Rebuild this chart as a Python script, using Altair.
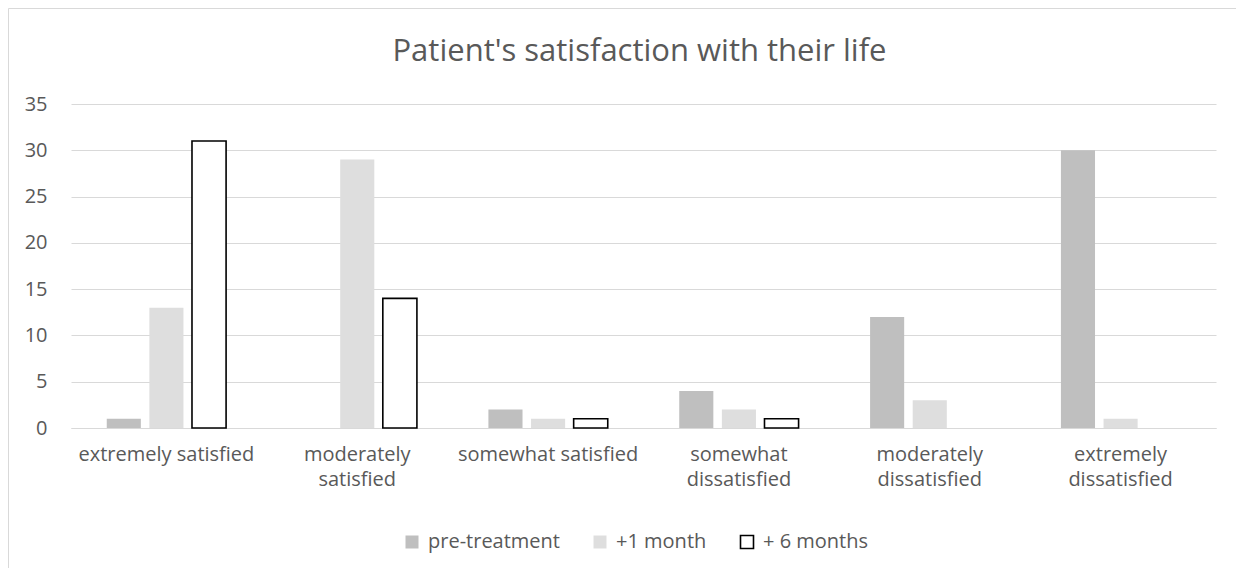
import altair as alt
import pandas as pd

categories = [
    "extremely satisfied",
    "moderately satisfied",
    "somewhat satisfied",
    "somewhat dissatisfied",
    "moderately dissatisfied",
    "extremely dissatisfied",
]
series = ["pre-treatment", "+1 month", "+ 6 months"]
pre_treatment = [1, 0, 2, 4, 12, 30]
plus_1_month = [13, 29, 1, 2, 3, 1]
plus_6_months = [31, 14, 1, 1, 0, 0]
y_ticks = [0, 5, 10, 15, 20, 25, 30, 35]

rows = []
for s, vals in zip(series, [pre_treatment, plus_1_month, plus_6_months]):
    for c, v in zip(categories, vals):
        rows.append({"category": c, "series": s, "value": v})
df = pd.DataFrame(rows)

FONT = "Open Sans"
GREY = "#595959"
W, H = 1145, 324

label_expr = ("(datum.label == 'extremely satisfied' || datum.label == 'somewhat satisfied') "
              "? datum.label : split(datum.label, ' ')")

legend_props = dict(title=None, orient="none", direction="horizontal", legendX=331, legendY=428,
                    symbolType="square", symbolSize=169, symbolStrokeWidth=1.6, labelOffset=6,
                    labelFont=FONT, labelFontSize=20, labelColor=GREY, columnPadding=30)

bars = alt.Chart(df).transform_filter("datum.value > 0").mark_bar(strokeWidth=1.6).encode(
    x=alt.X("category:N", sort=categories,
            scale=alt.Scale(domain=categories, paddingInner=0.33, paddingOuter=0.165),
            axis=alt.Axis(title=None, labelAngle=0, ticks=False, domainColor="#d9d9d9",
                          labelExpr=label_expr, labelPadding=16, labelLineHeight=25,
                          labelLimit=300, labelFontSize=20, labelColor=GREY, labelFont=FONT)),
    xOffset=alt.XOffset("series:N", sort=series,
                        scale=alt.Scale(domain=series, paddingInner=0.2, paddingOuter=0.1)),
    y=alt.Y("value:Q", scale=alt.Scale(domain=[0, 35]),
            axis=alt.Axis(title=None, values=y_ticks, domain=False, ticks=False,
                          gridColor="#d9d9d9", labelPadding=24, labelFontSize=20,
                          labelColor=GREY, labelFont=FONT)),
    fill=alt.Fill("series:N", sort=series,
                  scale=alt.Scale(domain=series, range=["#bfbfbf", "#dedede", "#ffffff"]),
                  legend=alt.Legend(**legend_props)),
    stroke=alt.Stroke("series:N", sort=series,
                      scale=alt.Scale(domain=series, range=["transparent", "transparent", "#000000"]),
                      legend=alt.Legend(**legend_props)),
)

border = alt.Chart(pd.DataFrame({"a": [0]})).mark_rect(
    fill="transparent", stroke="#d9d9d9", strokeWidth=1
).encode(
    x=alt.value(-62.5), x2=alt.value(W + 200), y=alt.value(-95.5), y2=alt.value(H + 300)
)

chart = alt.layer(border, bars).properties(
    width=W, height=H,
    autosize=alt.AutoSizeParams(type="none"),
    padding={"left": 63, "top": 96, "right": 20, "bottom": 140},
    title=alt.TitleParams("Patient's satisfaction with their life", fontSize=31, font=FONT,
                          color=GREY, fontWeight="normal", anchor="middle", offset=-60, dx=-4),
).configure_view(stroke=None)

chart.save("out.html", embed_options={"renderer": "svg", "actions": False})
